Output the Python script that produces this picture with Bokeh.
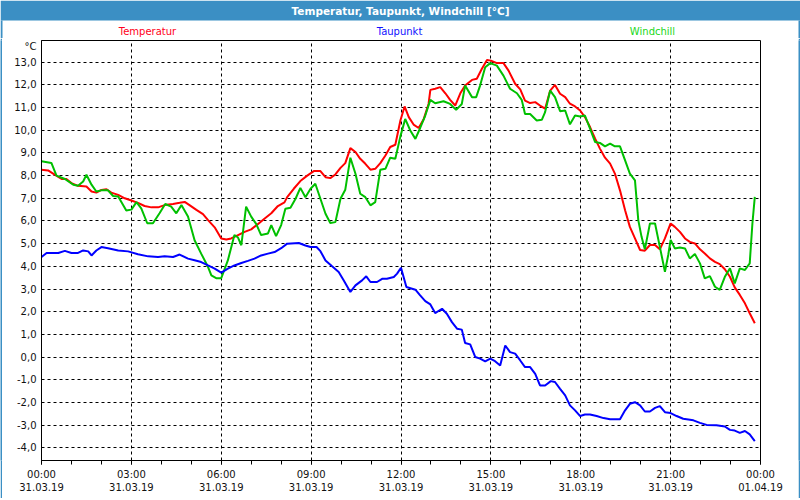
from bokeh.plotting import figure
from bokeh.models import FixedTicker, Range1d
from bokeh.layouts import column, row
from bokeh.embed import file_html
from bokeh.resources import INLINE
from bokeh.core.properties import value

title_text = "Temperatur, Taupunkt, Windchill [°C]"
series_names = ["Temperatur", "Taupunkt", "Windchill"]
line_colors = ["#ff0000", "#0000ff", "#00c000"]
name_colors = ["#ff0020", "#1010ff", "#20d820"]
y_unit = "°C"

temp_hours = [0.00, 0.22, 0.44, 0.67, 0.83, 1.00, 1.22, 1.50, 1.67, 1.83, 2.00, 2.17, 2.33, 2.56, 2.78,
              3.00, 3.22, 3.44, 3.67, 3.89, 4.11, 4.39, 4.61, 4.78, 4.94, 5.17, 5.39, 5.56, 5.78, 6.00,
              6.17, 6.33, 6.56, 6.78, 7.00, 7.22, 7.44, 7.67, 7.89, 8.11, 8.20, 8.42, 8.64, 8.87, 9.09,
              9.31, 9.48, 9.64, 9.81, 9.98, 10.14, 10.31, 10.48, 10.64, 10.81, 10.98, 11.14, 11.31, 11.48,
              11.64, 11.81, 11.98, 12.12, 12.26, 12.42, 12.59, 12.76, 12.92, 12.98, 13.14, 13.31, 13.48,
              13.64, 13.81, 13.98, 14.14, 14.37, 14.53, 14.70, 14.87, 15.00, 15.20, 15.42, 15.59, 15.81,
              15.98, 16.14, 16.31, 16.48, 16.64, 16.81, 16.98, 17.14, 17.31, 17.48, 17.64, 17.81, 17.98,
              18.14, 18.31, 18.48, 18.64, 18.81, 18.98, 19.14, 19.31, 19.48, 19.64, 19.81, 19.98, 20.14,
              20.31, 20.48, 20.64, 20.81, 21.00, 21.14, 21.31, 21.48, 21.64, 21.81, 21.98, 22.14, 22.31,
              22.48, 22.64, 22.81, 22.98, 23.14, 23.31, 23.48, 23.64, 23.81]
temp_values = [8.26, 8.23, 8.04, 7.85, 7.85, 7.67, 7.55, 7.52, 7.30, 7.25, 7.37, 7.40, 7.25, 7.15, 7.00,
               6.90, 6.80, 6.66, 6.60, 6.60, 6.70, 6.75, 6.80, 6.84, 6.70, 6.49, 6.30, 6.04, 5.72, 5.23,
               5.18, 5.23, 5.38, 5.52, 5.63, 5.86, 6.10, 6.34, 6.66, 6.82, 7.05, 7.42, 7.76, 8.00, 8.20,
               8.20, 7.93, 7.89, 8.05, 8.34, 8.55, 9.21, 9.04, 8.74, 8.52, 8.26, 8.30, 8.55, 8.89,
               9.26, 9.36, 10.43, 11.05, 10.58, 10.25, 10.10, 10.50, 11.16, 11.78, 11.83, 11.90, 11.63,
               11.34, 11.09, 11.63, 11.97, 12.22, 12.27, 12.71, 13.10, 13.07, 12.96, 12.96, 12.63, 12.05,
               11.80, 11.31, 11.20, 11.24, 11.09, 10.95, 11.75, 12.00, 11.61, 11.46, 11.17, 11.05, 10.87,
               10.58, 10.14, 9.63, 9.19, 8.79, 8.53, 8.09, 7.35, 6.47, 5.74, 5.23, 4.72, 4.69,
               4.94, 4.94, 4.75, 5.23, 5.89, 5.74, 5.52, 5.23, 5.08, 5.01, 4.75, 4.57, 4.35,
               4.20, 4.10, 3.87, 3.54, 3.07, 2.74, 2.37, 1.93, 1.49]

dew_hours = [0.00, 0.17, 0.56, 0.78, 1.00, 1.22, 1.39, 1.56, 1.67, 1.83, 2.00, 2.22, 2.56, 2.89, 3.22,
             3.56, 3.89, 4.11, 4.39, 4.61, 4.89, 5.11, 5.33, 5.56, 5.78, 6.00, 6.22, 6.44, 6.67, 6.89,
             7.11, 7.33, 7.56, 7.78, 8.00, 8.20, 8.59, 8.81, 8.98, 9.18, 9.31, 9.48, 9.70, 9.92, 10.09,
             10.31, 10.48, 10.70, 10.84, 10.98, 11.20, 11.37, 11.53, 11.76, 11.87, 12.00, 12.18, 12.48,
             12.64, 12.81, 12.98, 13.14, 13.37, 13.53, 13.70, 13.87, 14.03, 14.14, 14.31, 14.48, 14.64,
             14.81, 14.98, 15.14, 15.31, 15.48, 15.64, 15.81, 15.98, 16.14, 16.31, 16.48, 16.64, 16.81,
             17.00, 17.14, 17.31, 17.48, 17.64, 17.81, 17.98, 18.14, 18.31, 18.53, 18.76, 18.98, 19.31,
             19.48, 19.64, 19.81, 19.98, 20.14, 20.31, 20.48, 20.64, 20.81, 21.00, 21.20, 21.42, 21.76,
             21.98, 22.20, 22.53, 22.81, 22.98, 23.14, 23.31, 23.48, 23.64, 23.81]
dew_values = [4.41, 4.59, 4.59, 4.68, 4.59, 4.59, 4.70, 4.66, 4.48, 4.70, 4.85, 4.80, 4.70, 4.66, 4.53,
              4.44, 4.41, 4.44, 4.41, 4.52, 4.34, 4.27, 4.19, 4.04, 3.90, 3.72, 3.90, 4.04, 4.15, 4.24,
              4.34, 4.48, 4.56, 4.63, 4.80, 5.00, 5.03, 4.92, 4.85, 4.85, 4.67, 4.26, 4.00, 3.75, 3.38,
              2.87, 3.16, 3.38, 3.56, 3.31, 3.31, 3.45, 3.45, 3.53, 3.68, 3.94, 3.09, 2.97,
              2.72, 2.47, 2.32, 1.94, 2.13, 1.91, 1.54, 1.25, 1.21, 0.62, 0.56, 0.00, -0.07,
              -0.19, -0.07, -0.18, -0.37, 0.51, 0.22, 0.15, -0.15, -0.44, -0.44, -0.74, -1.25, -1.25,
              -1.06, -1.10, -1.40, -1.69, -2.13, -2.35, -2.60, -2.53, -2.53, -2.60, -2.69, -2.74, -2.74,
              -2.35, -2.06, -1.99, -2.13, -2.40, -2.40, -2.24, -2.16, -2.43, -2.47, -2.60, -2.72, -2.79,
              -2.90, -2.99, -3.01, -3.06, -3.21, -3.24, -3.34, -3.26, -3.41, -3.71]

chill_hours = [0.00, 0.33, 0.50, 0.78, 1.06, 1.22, 1.39, 1.50, 1.67, 1.83, 2.00, 2.22, 2.39, 2.56, 2.83,
               3.00, 3.17, 3.33, 3.53, 3.72, 3.94, 4.13, 4.33, 4.50, 4.67, 4.89, 5.11, 5.33, 5.56, 5.67,
               5.83, 6.00, 6.22, 6.44, 6.56, 6.67, 6.83, 7.00, 7.17, 7.33, 7.56, 7.67, 7.83, 8.00, 8.14,
               8.31, 8.48, 8.64, 8.81, 8.98, 9.14, 9.31, 9.48, 9.64, 9.81, 9.98, 10.14, 10.31, 10.48,
               10.64, 10.81, 10.98, 11.14, 11.31, 11.48, 11.64, 11.81, 11.98, 12.14, 12.31, 12.48, 12.64,
               12.81, 12.98, 13.14, 13.42, 13.64, 13.84, 14.03, 14.14, 14.37, 14.51, 14.64, 14.81, 14.98,
               15.20, 15.42, 15.64, 15.87, 16.03, 16.14, 16.31, 16.53, 16.70, 16.81, 16.98, 17.14, 17.31,
               17.48, 17.64, 17.81, 17.98, 18.14, 18.31, 18.48, 18.64, 18.81, 18.98, 19.14, 19.31, 19.48,
               19.64, 19.81, 19.92, 20.03, 20.14, 20.31, 20.48, 20.64, 20.81, 20.92, 21.00, 21.14, 21.31,
               21.48, 21.64, 21.81, 21.98, 22.14, 22.31, 22.48, 22.64, 22.81, 22.98, 23.14, 23.31, 23.48,
               23.64, 23.73, 23.81]
chill_values = [8.63, 8.56, 8.00, 7.85, 7.60, 7.55, 7.74, 8.04, 7.60, 7.30, 7.35, 7.35, 7.10, 7.08, 6.46,
                6.50, 6.83, 6.56, 5.90, 5.90, 6.34, 6.75, 6.63, 6.34, 6.70, 6.20, 5.15, 4.56, 3.97, 3.60,
                3.48, 3.48, 4.26, 5.38, 5.27, 4.93, 6.63, 6.19, 5.86, 5.38, 5.45, 5.82, 5.33, 5.82, 6.54,
                6.58, 6.98, 7.46, 7.05, 7.42, 7.64, 6.98, 6.32, 5.91, 5.95, 6.98, 7.38, 8.79, 8.08,
                7.20, 7.05, 6.69, 6.83, 8.26, 8.30, 8.79, 8.74, 9.73, 10.50, 9.99, 9.62, 10.10,
                10.65, 11.34, 11.19, 11.28, 11.16, 10.90, 11.16, 11.97, 11.46, 11.46, 11.97, 12.78, 12.96,
                12.85, 12.41, 11.83, 11.63, 11.34, 10.72, 10.72, 10.43, 10.46, 10.80, 11.75, 11.46, 10.84,
                10.87, 10.26, 10.65, 10.61, 10.65, 10.07, 9.48, 9.44, 9.29, 9.41, 9.29, 9.29, 8.67,
                8.09, 7.79, 6.04, 5.30, 4.75, 5.89, 5.89, 4.86, 3.76, 4.50, 5.16, 4.79, 4.83,
                4.79, 4.35, 4.54, 4.13, 3.47, 3.57, 3.10, 2.96, 3.54, 3.91, 3.25, 3.91, 3.84,
                4.13, 5.89, 7.06]

x_tick_hours = [0, 3, 6, 9, 12, 15, 18, 21, 24]
x_tick_times = ["00:00", "03:00", "06:00", "09:00", "12:00", "15:00", "18:00", "21:00", "00:00"]
x_tick_dates = ["31.03.19"] * 8 + ["01.04.19"]
x_minor_hours = list(range(0, 25))
y_ticks = list(range(-4, 14))
y_unit_pos = 13.68

FONT = "DejaVu Sans"
BAR = "#3b8fc4"


def strip(w, h):
    s = figure(width=w, height=h, toolbar_location=None, output_backend="svg", min_border=0,
               x_axis_type=None, y_axis_type=None, background_fill_color=BAR,
               border_fill_color=BAR, outline_line_color=None)
    s.grid.visible = False
    return s


# header: title bar + series names (pixel-space ranges)
head = figure(width=800, height=38, x_range=Range1d(0, 800), y_range=Range1d(38, 0),
              toolbar_location=None, output_backend="svg", min_border=0,
              x_axis_type=None, y_axis_type=None,
              background_fill_color="white", border_fill_color="white", outline_line_color=None)
head.grid.visible = False
head.quad(left=[0, 0, 798], right=[800, 2, 800], top=[0, 20, 20], bottom=[20, 38, 38],
          fill_color=BAR, line_color=None)
head.text(x=[400], y=[10], text=[title_text], text_align="center", text_baseline="middle",
          text_color="white", text_font=value(FONT), text_font_style="bold", text_font_size="10.5px")
head.text(x=[147, 399, 652], y=[31, 31, 31], text=series_names, text_align="center",
          text_baseline="middle", text_color=name_colors, text_font=value(FONT), text_font_size="10px")

p = figure(width=796, height=460, x_range=Range1d(0, 24), y_range=Range1d(-4.56, 13.957),
           toolbar_location=None, output_backend="svg",
           min_border_left=39, min_border_right=38, min_border_top=2, min_border_bottom=38,
           background_fill_color="white", border_fill_color="white",
           outline_line_color="black", outline_line_width=1, outline_line_alpha=1.0)

p.xaxis.ticker = FixedTicker(ticks=x_tick_hours, minor_ticks=x_minor_hours)
p.xaxis.major_label_overrides = {h: f"{t}\n{d}" for h, t, d in zip(x_tick_hours, x_tick_times, x_tick_dates)}
p.xaxis.major_tick_in = 0
p.xaxis.major_tick_out = 4
p.xaxis.minor_tick_in = 0
p.xaxis.minor_tick_out = 4
p.xaxis.major_label_standoff = 4
p.xaxis.minor_tick_line_color = "black"

p.yaxis.ticker = FixedTicker(ticks=y_ticks + [y_unit_pos])
ylab = {v: f"{v:.1f}".replace(".", ",") for v in y_ticks}
ylab[y_unit_pos] = y_unit
p.yaxis.major_label_overrides = ylab
p.yaxis.major_tick_in = 0
p.yaxis.major_tick_out = 0
p.yaxis.minor_tick_line_color = None
p.yaxis.major_label_standoff = 5

for ax in (p.xaxis, p.yaxis):
    ax.axis_line_color = "black"
    ax.major_tick_line_color = "black"
    ax.major_label_text_font = FONT
    ax.major_label_text_font_size = "10px"
    ax.major_label_text_color = "#111111"

p.xgrid.ticker = FixedTicker(ticks=x_tick_hours)
p.ygrid.ticker = FixedTicker(ticks=y_ticks)
for g in (p.xgrid, p.ygrid):
    g.grid_line_color = "black"
    g.grid_line_dash = "3 3"
    g.grid_line_width = 1
    g.grid_line_alpha = 1.0

p.line(temp_hours, temp_values, line_color=line_colors[0], line_width=2)
p.line(chill_hours, chill_values, line_color=line_colors[2], line_width=2)
p.line(dew_hours, dew_values, line_color=line_colors[1], line_width=2)

layout = column(head, row(strip(2, 460), p, strip(2, 460), spacing=0), strip(800, 2), spacing=0)
open("out.html", "w").write(file_html(layout, INLINE))
